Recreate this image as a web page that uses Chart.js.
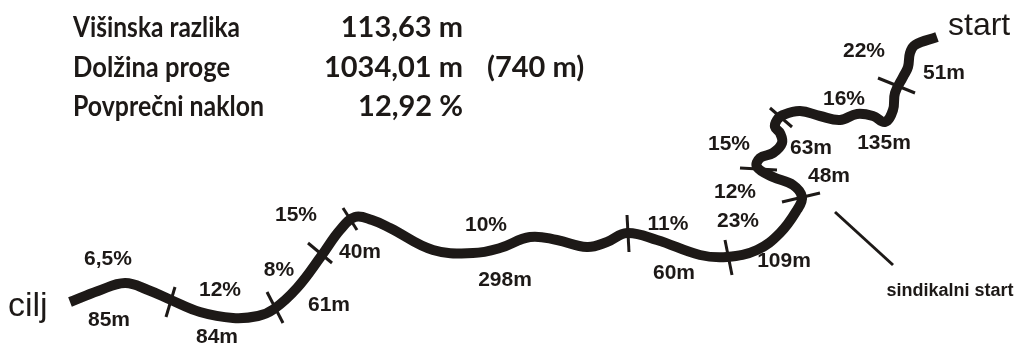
<!DOCTYPE html>
<html>
<head>
<meta charset="utf-8">
<script src="https://cdn.jsdelivr.net/npm/chart.js@4"></script>
<style>
  html, body { margin: 0; padding: 0; background: #ffffff; }
  #wrap { width: 1018px; height: 345px; }
</style>
</head>
<body>
<div id="wrap"><canvas id="trackChart" width="1018" height="345"></canvas></div>
<script>
// track outline, from finish (cilj) to start
const trackX = [70, 98, 125, 148, 171, 200, 233, 258, 274, 297, 322, 340, 355, 372, 390, 433, 473, 500, 530, 557, 587, 607, 627, 657, 700, 727, 757, 780, 797, 802, 793, 773, 757, 760, 773, 782, 780, 775, 777, 783, 800, 820, 840, 857, 873, 885, 893, 895, 903, 908, 910, 915, 937];
const trackY = [302, 291, 283, 290, 300, 312, 318, 316, 309, 288, 255, 230, 217, 220, 228, 250, 253, 248, 237, 240, 247, 242, 233, 240, 255, 257, 250, 233, 210, 197, 185, 177, 167, 158, 153, 143, 133, 127, 120, 115, 111, 116, 120, 114, 116, 122, 110, 93, 77, 67, 53, 45, 37];

// section dividers (start x, start y, end x, end y)
const tickX1 = [175, 267, 308, 343, 627, 725, 782, 740, 770, 878];
const tickY1 = [287, 292, 243, 208, 215, 240, 202, 168, 108, 78];
const tickX2 = [166, 283, 332, 357, 629, 732, 820, 777, 792, 915];
const tickY2 = [317, 323, 263, 230, 252, 275, 193, 170, 127, 93];

// pointer to "sindikalni start"
const pointerX = [835, 893];
const pointerY = [212, 265];

// slope and length labels
const labelText = ['6,5%', '85m', '12%', '84m', '8%', '61m', '15%', '40m', '10%', '298m', '11%', '60m',
  '23%', '12%', '109m', '48m', '15%', '63m', '135m', '16%', '22%', '51m'];
const labelX = [108, 109, 220, 217, 279, 329, 296, 360, 486, 505, 668, 674,
  738, 735, 784, 829, 729, 811, 884, 844, 864, 944];
const labelY = [259, 320, 290, 337, 270, 305, 215, 252, 225, 280, 224, 273,
  221, 192, 261, 176, 144, 148, 143, 99, 51, 73];

// summary block
const statNames = ['Višinska razlika', 'Dolžina proge', 'Povprečni naklon'];
const statValues = ['113,63 m', '1034,01 m', '12,92 %'];
const statExtra = ['', '(740 m)', ''];

const ink = '#1d1917';

function toPoints(xs, ys) {
  return xs.map((x, i) => ({ x: x, y: ys[i] }));
}

const datasets = [];

datasets.push({
  data: toPoints(trackX, trackY),
  showLine: true,
  borderColor: ink,
  borderWidth: 10,
  borderCapStyle: 'butt',
  borderJoinStyle: 'round',
  tension: 0.4,
  pointRadius: 0,
});

for (let i = 0; i < tickX1.length; i++) {
  datasets.push({
    data: [{ x: tickX1[i], y: tickY1[i] }, { x: tickX2[i], y: tickY2[i] }],
    showLine: true,
    borderColor: ink,
    borderWidth: 3,
    tension: 0,
    pointRadius: 0,
  });
}

datasets.push({
  data: toPoints(pointerX, pointerY),
  showLine: true,
  borderColor: ink,
  borderWidth: 3,
  tension: 0,
  pointRadius: 0,
});

// draws all the texts on top of the chart
const textPlugin = {
  id: 'texts',
  afterDatasetsDraw(chart) {
    const ctx = chart.ctx;
    const xs = chart.scales.x;
    const ys = chart.scales.y;
    ctx.save();
    ctx.fillStyle = ink;

    // segment labels
    ctx.font = 'bold 21px "Liberation Sans", Arial, sans-serif';
    ctx.textAlign = 'center';
    ctx.textBaseline = 'middle';
    labelText.forEach((t, i) => {
      ctx.fillText(t, xs.getPixelForValue(labelX[i]), ys.getPixelForValue(labelY[i]));
    });

    ctx.font = 'bold 18px "Liberation Sans", Arial, sans-serif';
    ctx.fillText('sindikalni start', xs.getPixelForValue(950), ys.getPixelForValue(291));

    // start / finish
    ctx.font = '32px "Liberation Sans", Arial, sans-serif';
    ctx.textAlign = 'left';
    ctx.textBaseline = 'alphabetic';
    ctx.fillText('start', xs.getPixelForValue(948), ys.getPixelForValue(35));
    ctx.font = '34px "Liberation Sans", Arial, sans-serif';
    ctx.fillText('cilj', xs.getPixelForValue(8), ys.getPixelForValue(316));

    // summary block
    ctx.font = 'bold 29px Lato, "Noto Sans", sans-serif';
    const nameWidths = [167, 157, 191];
    statNames.forEach((t, i) => {
      const base = 37 + i * 39.5;
      ctx.textAlign = 'left';
      ctx.fillText(t, 73, base, nameWidths[i]);
      ctx.textAlign = 'right';
      ctx.fillText(statValues[i], 463, base);
      if (statExtra[i]) {
        ctx.textAlign = 'left';
        ctx.fillText(statExtra[i], 487, base);
      }
    });
    ctx.restore();
  }
};

new Chart(document.getElementById('trackChart'), {
  type: 'scatter',
  data: { datasets: datasets },
  options: {
    responsive: false,
    animation: false,
    layout: { padding: 0 },
    plugins: {
      legend: { display: false },
      tooltip: { enabled: false },
    },
    scales: {
      x: { type: 'linear', min: 0, max: 1018, display: false },
      y: { type: 'linear', min: 0, max: 345, reverse: true, display: false },
    },
  },
  plugins: [textPlugin],
});
</script>
</body>
</html>
